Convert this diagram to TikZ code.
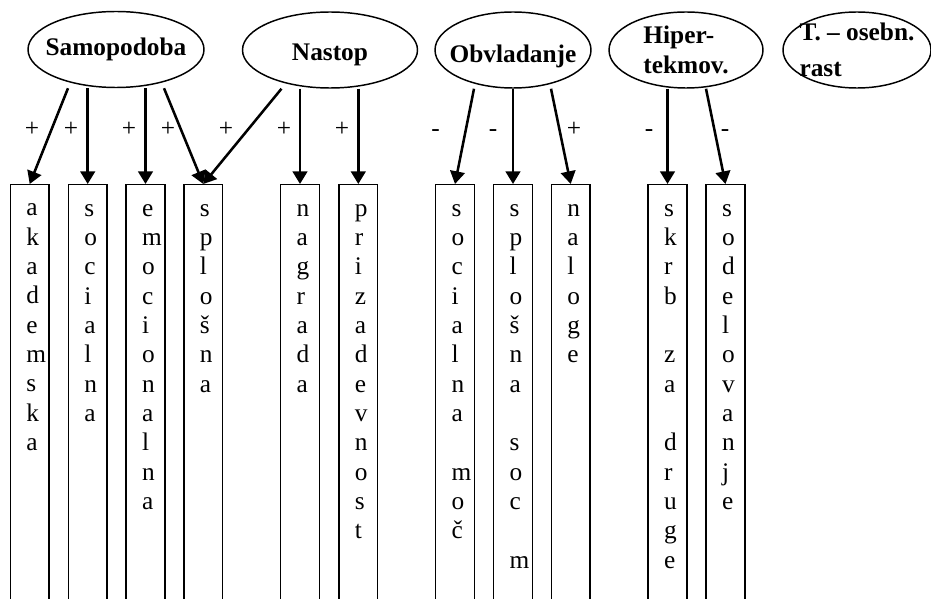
\documentclass[tikz,border=0pt]{standalone}
\usepackage{fontspec}
\setmainfont{Liberation Serif}
\usetikzlibrary{
  shapes.geometric,
  arrows.meta
}

\begin{document}
\begin{tikzpicture}[
  x=0.75pt, y=-0.75pt,
  goal/.style={draw, ellipse, line width=1.1pt, inner xsep=-30pt, inner ysep=-6pt,
               minimum height=57pt, align=left,
               font=\fontsize{19}{22}\selectfont\bfseries},
  colbox/.style={draw, line width=1.1pt, anchor=north, text width=5pt,
                 inner xsep=12pt, inner ysep=14.5pt, align=left, text depth=290pt,
                 font=\fontsize{19}{22}\selectfont},
  sgn/.style={anchor=base, inner sep=0pt, font=\fontsize{19}{22}\selectfont},
  flow/.style={-{Triangle[width=11pt,length=9.5pt]}, line width=1.9pt}
]
\useasboundingbox (0,0) rectangle (931,599);
\clip (0,0) rectangle (931,599);

%% Goal ellipses
\node[goal, minimum width=132pt]    (samo)  at (116,49.5) {Samopodoba};
\node[goal, minimum width=131.25pt, text height=20pt, text depth=4.2pt] (nast) at (330,50) {Nastop};
\node[goal, minimum width=117pt, text height=23.5pt, text depth=4.2pt]  (obvl) at (513,50) {Obvladanje};
\node[goal, minimum width=115.5pt]  (hiper) at (686,50)   {Hiper-\\tekmov.};
\node[goal, minimum width=111pt]    (osebn) at (857,50)   {T. – osebn.\\[5pt]rast};

%% Columns
\node[colbox] (akad)   at (29.7,184)  {a\\k\\a\\d\\e\\m\\s\\k\\a};
\node[colbox] (soc)    at (87.7,184)  {s\\o\\c\\i\\a\\l\\n\\a};
\node[colbox] (emo)    at (145.5,184) {e\\m\\o\\c\\i\\o\\n\\a\\l\\n\\a};
\node[colbox] (splo)   at (203.3,184) {s\\p\\l\\o\\š\\n\\a};
\node[colbox] (nagr)   at (300,184)   {n\\a\\g\\r\\a\\d\\a};
\node[colbox] (priz)   at (358.3,184) {p\\r\\i\\z\\a\\d\\e\\v\\n\\o\\s\\t};
\node[colbox] (socm)   at (455,184)   {s\\o\\c\\i\\a\\l\\n\\a\\ \mbox{}\\ m\\o\\č};
\node[colbox] (splsoc) at (513,184)   {s\\p\\l\\o\\š\\n\\a\\ \mbox{}\\ s\\o\\c\\ \mbox{}\\ m};
\node[colbox] (nal)    at (570.7,184) {n\\a\\l\\o\\g\\e};
\node[colbox] (skrb)   at (667.5,184) {s\\k\\r\\b\\ \mbox{}\\ z\\a\\ \mbox{}\\ d\\r\\u\\g\\e};
\node[colbox] (sodel)  at (725.5,184) {s\\o\\d\\e\\l\\o\\v\\a\\n\\j\\e};

%% Samopodoba arrows
\draw[flow] ([xshift=-36pt]samo.south) -- (akad.north);
\draw[flow] (soc.north |- samo.south) -- (soc.north);
\draw[flow] (emo.north |- samo.south) -- (emo.north);
\draw[flow] ([xshift=36pt]samo.south) -- (splo.north);

%% Nastop arrows
\draw[flow] ([xshift=-36.4pt]nast.south) -- (splo.north);
\draw[flow] (nagr.north |- nast.south) -- (nagr.north);
\draw[flow] (priz.north |- nast.south) -- (priz.north);

%% Obvladanje arrows
\draw[flow] ([xshift=-29.25pt]obvl.south) -- (socm.north);
\draw[flow] (splsoc.north |- obvl.south) -- (splsoc.north);
\draw[flow] ([xshift=28.5pt]obvl.south) -- (nal.north);

%% Hiper-tekmov. arrows
\draw[flow] (skrb.north |- hiper.south) -- (skrb.north);
\draw[flow] ([xshift=15pt]hiper.south) -- (sodel.north);

%% Signs
\node[sgn] (s1)  at (32,137)    {+};
\node[sgn] (s2)  at (71,137)    {+};
\node[sgn] (s3)  at (129,137)   {+};
\node[sgn] (s4)  at (168,137)   {+};
\node[sgn] (s5)  at (226,137)   {+};
\node[sgn] (s6)  at (284,137)   {+};
\node[sgn] (s7)  at (342,137)   {+};
\node[sgn] (s8)  at (435.5,137) {-};
\node[sgn] (s9)  at (493,137)   {-};
\node[sgn] (s10) at (574,137)   {+};
\node[sgn] (s11) at (649,137)   {-};
\node[sgn] (s12) at (725,137)   {-};
\end{tikzpicture}
\end{document}
